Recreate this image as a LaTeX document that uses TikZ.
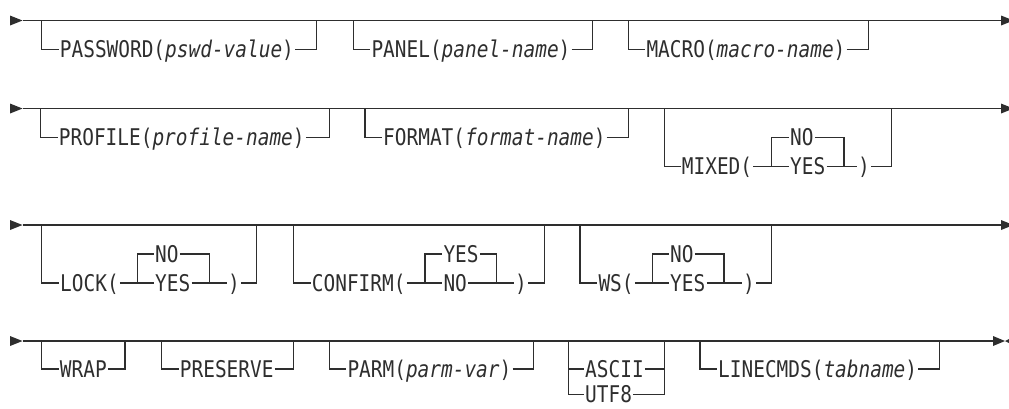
\documentclass[tikz,border=0pt]{standalone}
\usepackage{fontspec}
\newfontfamily\railfont[FakeStretch=0.845]{DejaVu Sans Mono}
\definecolor{ink}{HTML}{2E2E2E}
\tikzset{
  rail/.style={draw=ink, line width=1.2pt},
  txt/.style={anchor=west, inner xsep=1pt, inner ysep=0pt, text height=16.8pt, text depth=0pt,
    text=ink, font=\railfont\fontsize{23pt}{25pt}\selectfont},
  tipfill/.style={fill=ink},
}
% optional branch: name, left x, right x, main y, branch y, text
\newcommand\optb[6]{%
  \node[txt] (#1) at ({#2+17},#5) {#6};
  \draw[rail] (#2,#4) |- (#1.west);
  \draw[rail] (#1.east) -| (#3,#4);
}
\begin{document}
\begin{tikzpicture}[x=1pt,y=-1pt]
\useasboundingbox (0,0) rectangle (1009,408);

% ---------- main lines with start / end markers ----------
\foreach \n/\y in {1/20.5,2/108.5,3/225} {
  \coordinate (s\n) at (22.5,\y);
  \coordinate (e\n) at (1001,\y);
  \fill[tipfill] (s\n) -- ++(-12.5,-5) -- ++(0,10) -- cycle;
  \fill[tipfill] (e\n) -- ++(0,-5) -- ++(12.5,5) -- ++(-12.5,5) -- cycle;
  \draw[rail] (s\n) -- (e\n);
}
\coordinate (s4) at (22.5,341);
\coordinate (e4) at (993,341);
\coordinate (e4t) at (1005,341);
\fill[tipfill] (s4) -- ++(-12.5,-5) -- ++(0,10) -- cycle;
\fill[tipfill] (e4) -- ++(0,-5) -- (e4t) -- ++(-12,5) -- cycle;
\fill[tipfill] (e4t) -- ++(10,-5) -- ++(0,10) -- cycle;
\draw[rail] (s4) -- (e4);

% ---------- row 1 ----------
\optb{pw}{41.7}{316.7}{20.5}{49.5}{PASSWORD(\textit{pswd-value})}
\optb{pa}{353.3}{592.7}{20.5}{49.5}{PANEL(\textit{panel-name})}
\optb{ma}{628.3}{868.3}{20.5}{49.5}{MACRO(\textit{macro-name})}

% ---------- row 2 ----------
\optb{pr}{40.7}{329.3}{108.5}{137.5}{PROFILE(\textit{profile-name})}
\optb{fo}{365}{628.3}{108.5}{137.5}{FORMAT(\textit{format-name})}
% MIXED
\node[txt] (mx) at (680.7,166.5) {MIXED(};
\node[txt] (mxno) at (789,137.5) {NO};
\node[txt] (mxyes) at (789,166.5) {YES};
\node[txt] (mxrp) at (857,166.5) {)};
\draw[rail] (664.3,108.5) |- (mx.west);
\draw[rail] (mx.east) -- (mxyes.west);
\draw[rail] (771.7,166.5) |- (mxno.west);
\draw[rail] (mxno.east) -| (844,166.5);
\draw[rail] (mxyes.east) -- (mxrp.west);
\draw[rail] (mxrp.east) -| (891.7,108.5);

% ---------- row 3 ----------
% LOCK
\node[txt] (lk) at (59,283) {LOCK(};
\node[txt] (lkno) at (154,254) {NO};
\node[txt] (lkyes) at (154,283) {YES};
\node[txt] (lkrp) at (227,283) {)};
\draw[rail] (41.7,225) |- (lk.west);
\draw[rail] (lk.east) -- (lkyes.west);
\draw[rail] (137.3,283) |- (lkno.west);
\draw[rail] (lkno.east) -| (209.3,283);
\draw[rail] (lkyes.east) -- (lkrp.west);
\draw[rail] (lkrp.east) -| (256.7,225);
% CONFIRM
\node[txt] (cf) at (310.7,283) {CONFIRM(};
\node[txt] (cfyes) at (442.3,254) {YES};
\node[txt] (cfno) at (442.3,283) {NO};
\node[txt] (cfrp) at (514,283) {)};
\draw[rail] (293.3,225) |- (cf.west);
\draw[rail] (cf.east) -- (cfno.west);
\draw[rail] (425,283) |- (cfyes.west);
\draw[rail] (cfyes.east) -| (496.7,283);
\draw[rail] (cfno.east) -- (cfrp.west);
\draw[rail] (cfrp.east) -| (544.3,225);
% WS
\node[txt] (ws) at (597.3,283) {WS(};
\node[txt] (wsno) at (669,254) {NO};
\node[txt] (wsyes) at (669,283) {YES};
\node[txt] (wsrp) at (742,283) {)};
\draw[rail] (580,225) |- (ws.west);
\draw[rail] (ws.east) -- (wsyes.west);
\draw[rail] (652.7,283) |- (wsno.west);
\draw[rail] (wsno.east) -| (724,283);
\draw[rail] (wsyes.east) -- (wsrp.west);
\draw[rail] (wsrp.east) -| (771.7,225);

% ---------- row 4 ----------
\optb{wr}{41.7}{125}{341}{369}{WRAP}
\optb{ps}{161.7}{293.3}{341}{369}{PRESERVE}
\optb{pm}{329.3}{533.3}{341}{369}{PARM(\textit{parm-var})}
% ASCII / UTF8
\node[txt] (asc) at (584,369) {ASCII};
\node[txt] (utf) at (584,394.5) {UTF8};
\draw[rail] (568.3,341) |- (utf.west);
\draw[rail] (568.3,369) -- (asc.west);
\draw[rail] (utf.east) -| (664.3,341);
\draw[rail] (asc.east) -- (664.3,369);
\optb{lc}{700}{939.3}{341}{369}{LINECMDS(\textit{tabname})}
\end{tikzpicture}
\end{document}
